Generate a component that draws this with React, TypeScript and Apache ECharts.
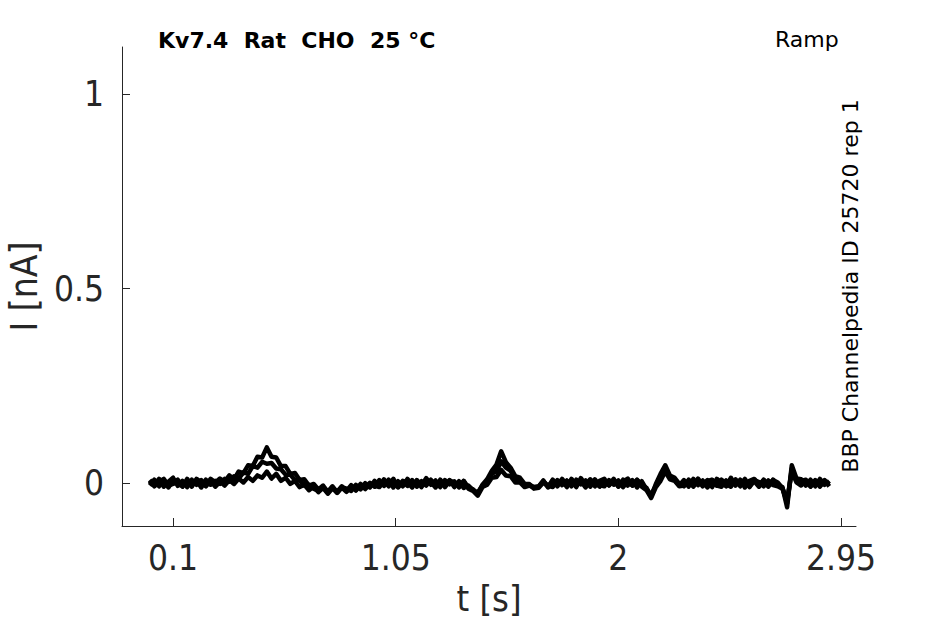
import React, { useEffect, useRef } from "react";
import * as echarts from "echarts";

const dt = 0.02;
const sweepA = [
  0.008, -0.005, 0.011, -0.009, 0.004, 0.014, -0.007, 0.006, -0.01, 0.009, -0.004, 0.008, -0.006, 0.011, 0.002,
  0.012, 0.004, 0.02, 0.01, 0.03, 0.026, 0.046, 0.044, 0.068, 0.066, 0.092, 0.068, 0.066, 0.044, 0.044, 0.024, 0.026, 0.008, 0.01, -0.006, -0.002,
  -0.016, -0.006, -0.022, -0.008, -0.024, -0.01, -0.014, -0.02, -0.004, -0.016, 0.0, -0.011,
  0.006, -0.008, 0.01, -0.005, 0.011, -0.009, 0.006, 0.002, -0.011, 0.008, -0.006, 0.013, -0.004, 0.007, -0.01, 0.008, -0.003, 0.005, -0.011, 0.006, -0.012,
  -0.016, -0.028, -0.004, 0.01, 0.032, 0.048, 0.082, 0.054, 0.04, 0.018, 0.014, -0.002, -0.002, -0.014,
  -0.012, 0.002, -0.009, 0.007, -0.008, 0.011, -0.003, 0.008, -0.01, 0.013, -0.004, 0.01, -0.008, 0.006, 0.011, -0.006, 0.008, -0.009, 0.004, 0.012, -0.006, 0.009, -0.004,
  -0.012, -0.034, -0.002, 0.024, 0.046, 0.02, 0.014, -0.002,
  -0.008, 0.009, -0.006, 0.012, -0.004, 0.008, -0.01, 0.011, 0.002, -0.008, 0.014, -0.006, 0.009, -0.011, 0.006, 0.011, -0.004, 0.008, -0.009, 0.009, -0.006, -0.01,
  -0.062, 0.046, 0.012, 0.01, -0.006, 0.009, -0.008, 0.011, -0.004, 0.006,
];
const sweepB = [
  -0.006, 0.009, -0.008, 0.006, -0.011, 0.008, 0.002, -0.009, 0.011, -0.006, 0.008, -0.011, 0.009, -0.004, 0.006,
  -0.002, 0.011, 0.004, 0.018, 0.012, 0.028, 0.024, 0.044, 0.04, 0.055, 0.05, 0.052, 0.038, 0.036, 0.022, 0.022, 0.008, 0.008, -0.006, -0.004, -0.014,
  -0.02, -0.01, -0.025, -0.01, -0.022, -0.008, -0.02, -0.005, -0.017, -0.002, -0.013, 0.001,
  -0.009, 0.008, -0.007, 0.009, -0.011, 0.005, -0.008, 0.011, -0.005, 0.007, -0.01, 0.008, 0.003, -0.011, 0.009, -0.006, 0.008, -0.01, 0.005, -0.012, -0.006,
  -0.018, -0.024, -0.006, 0.002, 0.024, 0.03, 0.056, 0.04, 0.032, 0.012, 0.01, -0.006, -0.004, -0.01,
  -0.008, 0.007, -0.011, 0.009, -0.005, 0.008, -0.01, 0.011, -0.006, 0.005, -0.011, 0.008, 0.002, -0.009, 0.007, -0.005, 0.011, -0.008, 0.009, -0.006, 0.008, -0.011, 0.005,
  -0.016, -0.03, -0.006, 0.012, 0.038, 0.016, 0.01, -0.006,
  0.008, -0.009, 0.011, -0.005, 0.007, -0.011, 0.008, -0.006, 0.009, -0.002, -0.009, 0.008, -0.004, 0.011, -0.008, 0.005, -0.009, 0.009, -0.006, 0.008, 0.002, -0.012,
  -0.052, 0.038, 0.008, 0.006, 0.009, -0.008, 0.008, -0.009, 0.006, -0.003,
];
const sweepC = [
  0.006, -0.008, 0.004, 0.011, -0.006, -0.002, 0.009, -0.008, 0.004, -0.009, 0.011, 0.002, -0.008, 0.006, -0.009,
  0.004, -0.006, 0.008, -0.002, 0.012, 0.002, 0.016, 0.006, 0.02, 0.014, 0.03, 0.012, 0.024, 0.006, 0.014, -0.002, 0.006, -0.01, -0.004, -0.018, -0.008,
  -0.023, -0.012, -0.027, -0.013, -0.025, -0.011, -0.022, -0.008, -0.019, -0.005, -0.015, -0.002,
  -0.006, -0.01, 0.005, -0.008, 0.007, -0.011, 0.004, -0.007, 0.008, -0.009, 0.005, -0.006, 0.009, -0.008, 0.005, -0.01, 0.007, 0.002, -0.008, 0.005, -0.014,
  -0.02, -0.032, -0.01, -0.004, 0.014, 0.016, 0.034, 0.02, 0.018, 0.002, 0.002, -0.01, -0.006, -0.012,
  -0.009, 0.005, -0.007, -0.01, 0.008, -0.005, 0.007, -0.008, 0.009, -0.003, 0.007, -0.009, 0.01, -0.005, -0.008, 0.008, -0.004, 0.007, -0.01, 0.005, -0.006, 0.008, -0.009,
  -0.018, -0.038, -0.01, 0.006, 0.03, 0.01, 0.006, -0.008,
  -0.006, 0.007, -0.009, 0.008, -0.008, 0.005, 0.009, -0.006, -0.009, 0.007, -0.005, 0.01, -0.008, 0.005, -0.01, 0.008, 0.003, -0.008, 0.007, -0.005, -0.008, -0.014,
  -0.044, 0.03, 0.002, -0.006, 0.007, -0.009, 0.006, -0.007, 0.008, -0.008,
];
const xTicks = [0.1, 1.05, 2, 2.95];
const yTicks = [0, 0.5, 1];
const xRange = [-0.118, 3.014];
const yRange = [-0.11, 1.121];

const titleText = "Kv7.4  Rat  CHO  25 °C";
const protocolText = "Ramp";
const sideText = "BBP Channelpedia ID 25720 rep 1";

function toPairs(vals: number[]) {
  return vals.map((v, i) => [+(i * dt).toFixed(3), v]);
}

export default function App() {
  const ref = useRef<HTMLDivElement>(null);
  useEffect(() => {
    if (!ref.current) return;
    const chart = echarts.init(ref.current, undefined, { renderer: "svg" });
    const axisColor = "#262626";
    const tickFont = "DejaVu Sans Condensed, DejaVu Sans";
    const lineSeries = [sweepC, sweepB, sweepA].map((s) => ({
      type: "line",
      data: toPairs(s),
      showSymbol: false,
      lineStyle: { color: "#000", width: 4.5, join: "round" },
      silent: true,
    }));
    chart.setOption({
      animation: false,
      backgroundColor: "#fff",
      grid: { left: 122, right: 89, top: 47, bottom: 98, containLabel: false, outerBoundsMode: "none" },
      xAxis: {
        type: "value",
        min: xRange[0],
        max: xRange[1],
        axisLine: { show: true, onZero: false, lineStyle: { color: axisColor, width: 1 } },
        axisTick: { show: true, inside: true, length: 8, customValues: xTicks, lineStyle: { color: axisColor } },
        axisLabel: {
          customValues: xTicks,
          color: axisColor,
          fontFamily: tickFont,
          fontSize: 35,
          margin: 14,
          formatter: (v: number) => String(v),
        },
        splitLine: { show: false },
        name: "t [s]",
        nameLocation: "middle",
        nameGap: 54,
        nameTextStyle: { color: axisColor, fontFamily: tickFont, fontSize: 36 },
      },
      yAxis: {
        type: "value",
        min: yRange[0],
        max: yRange[1],
        axisLine: { show: true, onZero: false, lineStyle: { color: axisColor, width: 1 } },
        axisTick: { show: true, inside: true, length: 8, customValues: yTicks, lineStyle: { color: axisColor } },
        axisLabel: {
          customValues: yTicks,
          color: axisColor,
          fontFamily: tickFont,
          fontSize: 35,
          margin: 18,
          formatter: (v: number) => String(v),
        },
        splitLine: { show: false },
        name: "I [nA]",
        nameLocation: "middle",
        nameGap: 64,
        nameTextStyle: { color: axisColor, fontFamily: tickFont, fontSize: 37 },
      },
      series: lineSeries,
      graphic: [
        {
          type: "text",
          x: 158,
          y: 40,
          style: { text: titleText, fontFamily: "DejaVu Sans", fontWeight: "bold", fontSize: 22, fill: "#000", verticalAlign: "middle" },
        },
        {
          type: "text",
          x: 775,
          y: 39,
          style: { text: protocolText, fontFamily: "DejaVu Sans", fontSize: 22, fill: "#000", verticalAlign: "middle" },
        },
        {
          type: "text",
          x: 850,
          y: 286,
          rotation: Math.PI / 2,
          style: {
            text: sideText,
            fontFamily: "DejaVu Sans",
            fontSize: 22,
            fill: "#000",
            align: "center",
            verticalAlign: "middle",
          },
        },
      ],
    });
    return () => chart.dispose();
  }, []);
  return <div ref={ref} style={{ width: 945, height: 624, position: "absolute", left: 0, top: 0 }} />;
}
